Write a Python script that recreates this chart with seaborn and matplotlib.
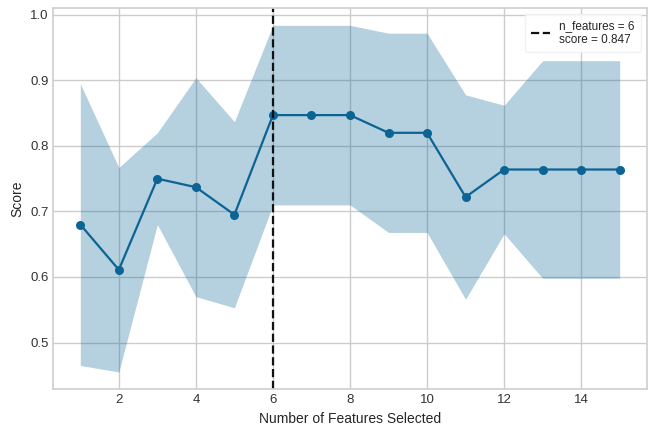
import numpy as np
import pandas as pd
import matplotlib
matplotlib.use('Agg')
import matplotlib.pyplot as plt
import seaborn as sns

# cross-validated score per number of selected features
n_features = list(range(1, 16))
score_mean = [0.680, 0.611, 0.750, 0.737, 0.695, 0.847, 0.847, 0.847,
              0.820, 0.820, 0.722, 0.764, 0.764, 0.764, 0.764]
score_std = [0.215, 0.156, 0.070, 0.167, 0.142, 0.137, 0.137, 0.137,
             0.152, 0.152, 0.156, 0.098, 0.166, 0.166, 0.166]
best_n = 6
best_score = 0.847

df = pd.DataFrame({'n': n_features, 'score': score_mean, 'std': score_std})

sns.set_theme(style='whitegrid')
plt.rcParams['font.family'] = ['Liberation Sans', 'DejaVu Sans']
plt.rcParams['axes.edgecolor'] = '#d0d0d0'
plt.rcParams['grid.color'] = '#cccccc'

line_color = '#0b6494'

fig = plt.figure(figsize=(6.52, 4.26), dpi=100)
ax = fig.add_axes([0.0818, 0.0861, 0.91, 0.8951])

ax.fill_between(df['n'], df['score'] - df['std'], df['score'] + df['std'],
                color=line_color, alpha=0.3, linewidth=0)
sns.lineplot(data=df, x='n', y='score', ax=ax, color=line_color,
             marker='o', markersize=6.5, markeredgewidth=0, linewidth=1.6)
ax.axvline(best_n, color='#111111', linestyle='--', linewidth=1.6,
           label='n_features = {}\nscore = {:.3f}'.format(best_n, best_score))

ax.set_xlabel('Number of Features Selected', fontsize=10, color='#262626')
ax.set_ylabel('Score', fontsize=10, color='#262626')
ax.tick_params(axis='both', labelsize=9.5, colors='#333333', length=0)
ax.set_xticks([2, 4, 6, 8, 10, 12, 14])
ax.set_yticks([0.5, 0.6, 0.7, 0.8, 0.9, 1.0])
ax.set_yticklabels(['0.5', '0.6', '0.7', '0.8', '0.9', '1.0'])
ax.margins(x=0.05, y=0.05)
ax.legend(loc='upper right', frameon=True, fontsize=8.5, facecolor='white',
          edgecolor='#f0f0f0', framealpha=0.85, handlelength=1.6,
          borderpad=0.5)

fig.savefig('out.png', dpi=100)
